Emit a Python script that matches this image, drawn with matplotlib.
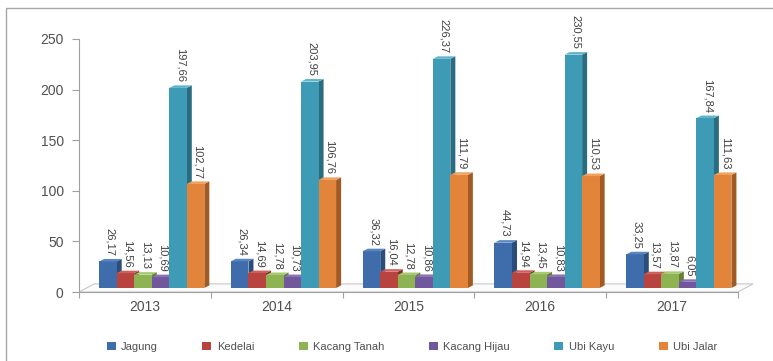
import numpy as np
import matplotlib
matplotlib.use("Agg")
from matplotlib import pyplot as plt
from matplotlib.patches import Polygon, Patch, Rectangle

plt.rcParams['font.family'] = ['Liberation Sans', 'DejaVu Sans']

years = ['2013', '2014', '2015', '2016', '2017']
jagung = [26.17, 26.34, 36.32, 44.73, 33.25]
kedelai = [14.56, 14.69, 16.04, 14.94, 13.57]
kacang_tanah = [13.13, 12.78, 12.78, 13.45, 13.87]
kacang_hijau = [10.69, 10.73, 10.86, 10.83, 6.05]
ubi_kayu = [197.66, 203.95, 226.37, 230.55, 167.84]
ubi_jalar = [102.77, 106.76, 111.79, 110.53, 111.63]

names = ['Jagung', 'Kedelai', 'Kacang Tanah', 'Kacang Hijau', 'Ubi Kayu', 'Ubi Jalar']
series = [jagung, kedelai, kacang_tanah, kacang_hijau, ubi_kayu, ubi_jalar]
# front / side / top face colours for each series
front = ['#3f6dab', '#b8433f', '#8db353', '#71579c', '#3d9bb5', '#e2853a']
side = ['#2b4d7c', '#842d2a', '#637f39', '#4f3c70', '#2a6d80', '#a35a22']
top = ['#5a86c0', '#cd605c', '#a6c972', '#8b72b4', '#5fb4cc', '#f0a05c']


def fmt(v):
    return f"{v:.2f}".replace('.', ',')


fig = plt.figure(figsize=(7.73, 3.61), dpi=100)
ax = fig.add_axes([79 / 773, 69 / 361, 676 / 773, 253 / 361])

n = len(years)
w = 0.133          # bar width
shift = 0.053      # bars stand a little behind the front plane
base = 4.0
dx, dy = 0.038, 2.5
fdx, fdy = 0.115, 8.0

# floor
floor = Polygon([(-0.5, 0), (-0.5 + fdx, fdy), (n - 0.5 + fdx, fdy), (n - 0.5, 0)],
                closed=True, facecolor='#fbfbfb', edgecolor='#c8c8c8', lw=0.8, zorder=1)
ax.add_patch(floor)

x = np.arange(n)
for j in range(n):
    for i, (name, vals) in enumerate(zip(names, series)):
        v = vals[j]
        x0 = x[j] + shift - 0.4 + i * w
        ax.bar(x0, v, width=w, bottom=base, align='edge', color=front[i],
               edgecolor='none', zorder=3 + i * 3)
        ax.add_patch(Polygon([(x0 + w, base), (x0 + w + dx, base + dy),
                              (x0 + w + dx, base + v + dy), (x0 + w, base + v)],
                             closed=True, facecolor=side[i], edgecolor='none',
                             zorder=2 + i * 3))
        ax.add_patch(Polygon([(x0, base + v), (x0 + dx, base + v + dy),
                              (x0 + w + dx, base + v + dy), (x0 + w, base + v)],
                             closed=True, facecolor=top[i], edgecolor='none',
                             zorder=4 + i * 3))
        ax.text(x0 + w / 2 + dx / 2, base + v + dy + 3, fmt(v), rotation=270,
                ha='center', va='bottom', fontsize=8, color='#404040', zorder=30)

ax.set_xlim(-0.5, n - 0.5 + 0.13)
ax.set_ylim(0, 250)
ax.set_yticks(range(0, 251, 50))
ax.set_xticks(np.arange(-0.5, n, 1.0))
ax.set_xticklabels([])
ax.set_xticks(x, labels=years, minor=True)
ax.tick_params(axis='x', which='major', length=4, color='#a0a0a0')
ax.tick_params(axis='x', which='minor', length=0, pad=6, labelsize=10, labelcolor='#505050')
ax.tick_params(axis='y', length=5, color='#a0a0a0', labelsize=10, labelcolor='#505050', pad=6)

for s in ['top', 'right']:
    ax.spines[s].set_visible(False)
ax.spines['left'].set_color('#a0a0a0')
ax.spines['bottom'].set_color('#a0a0a0')
ax.spines['bottom'].set_bounds(-0.5, n - 0.5)
ax.patch.set_visible(False)

handles = [Patch(facecolor=c, edgecolor='none') for c in front]
fig.legend(handles, names, loc='center', bbox_to_anchor=(0.533, 0.04), ncol=6,
           frameon=False, fontsize=8, handlelength=0.8, handleheight=0.8,
           handletextpad=0.5, columnspacing=4.0, labelcolor='#505050')

# chart area border
fig.add_artist(Rectangle((6 / 773, -0.05), 1.0, 1.05 - 8 / 361,
                         transform=fig.transFigure, fill=False,
                         edgecolor='#a6a6a6', lw=1.0))

fig.savefig("out.png", dpi=100)
